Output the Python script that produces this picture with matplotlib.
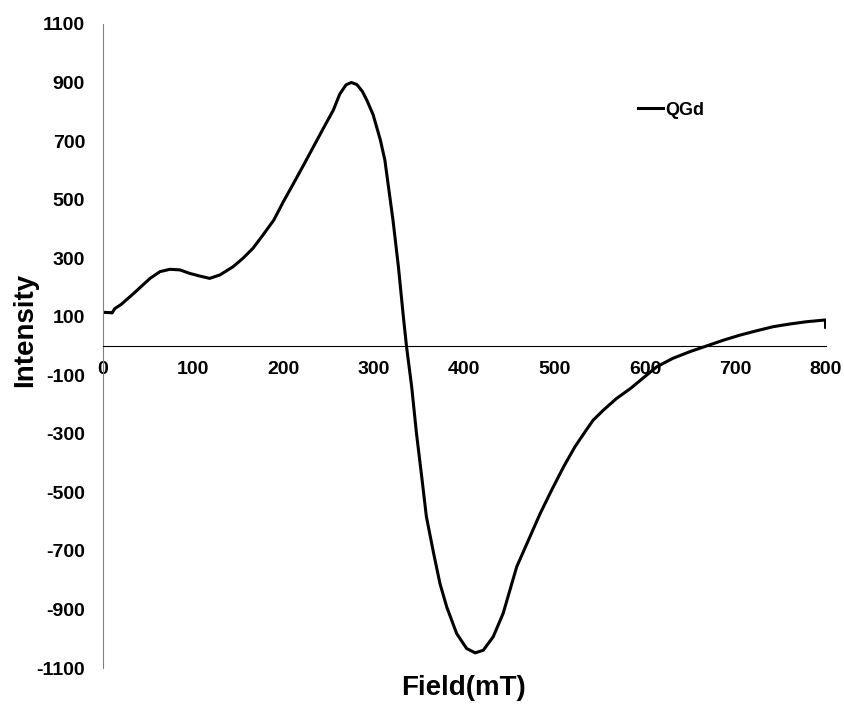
import matplotlib.pyplot as plt

plt.rcParams["font.family"] = ["Liberation Sans", "DejaVu Sans"]
plt.rcParams["font.weight"] = "bold"
plt.rcParams["axes.unicode_minus"] = False

# EPR spectrum
field = [0, 8, 10, 13, 20, 34, 52, 63, 74, 85, 96, 107, 118, 129.5, 144,
         155, 166, 177, 189, 199.6, 211, 222, 233, 244, 255, 262, 269,
         275, 281, 287, 292, 299, 307, 312, 321, 327, 332.5, 336, 341.7,
         347, 352.8, 358, 366, 373, 380.5, 391.5, 402.5, 412, 421, 432,
         443, 458, 471, 484, 496.7, 510, 522.5, 535, 542.7, 554, 568.6,
         584, 613, 631, 650, 668, 687, 705, 723.6, 742, 760, 779, 800, 800]
intensity = [115, 114, 113, 128, 142, 180, 231, 254, 262, 260, 248, 239,
             231, 243, 271, 300, 334, 379, 430, 493, 556, 618, 681, 744,
             806, 860, 892, 900, 893, 870, 840, 790, 704, 635, 430, 271,
             100, -2, -139, -298, -446, -583, -708, -811, -891, -982,
             -1033, -1048, -1039, -993, -913, -754, -663, -572, -492, -412,
             -344, -287, -253, -219, -179, -145, -71, -42, -19, 0, 20, 37,
             52, 66, 75, 83, 89, 64]

y_ticks = list(range(-1100, 1101, 200))
x_ticks = list(range(0, 801, 100))

fig = plt.figure(figsize=(8.45, 7.04), dpi=100)
ax = fig.add_axes([0.122, 0.051, 0.855, 0.915])

ax.plot(field, intensity, color="black", lw=2.2, label="QGd",
        solid_joinstyle="round")

ax.set_xlim(0, 800)
ax.set_ylim(-1100, 1100)
ax.set_yticks(y_ticks)
ax.set_xticks(x_ticks)

ax.spines["top"].set_visible(False)
ax.spines["right"].set_visible(False)
ax.spines["bottom"].set_position(("data", 0))
ax.spines["bottom"].set_color("black")
ax.spines["bottom"].set_linewidth(0.8)
ax.spines["left"].set_color("#808080")
ax.spines["left"].set_linewidth(0.8)

ax.tick_params(axis="y", length=0, pad=13, labelsize=14)
ax.tick_params(axis="x", length=0, pad=11, labelsize=14)
for lab in ax.get_xticklabels() + ax.get_yticklabels():
    lab.set_fontweight("bold")

fig.text(0.030, 0.531, "Intensity", rotation=90, ha="center", va="center",
         fontsize=20, fontweight="bold")
fig.text(0.549, 0.023, "Field(mT)", ha="center", va="center",
         fontsize=20, fontweight="bold")

ax.legend(loc="center left", bbox_to_anchor=(0.74, 0.866), frameon=False,
          prop={"weight": "bold", "size": 13}, handlelength=1.4,
          handletextpad=0.1, borderaxespad=0, borderpad=0)

fig.savefig("out.png", dpi=100)
